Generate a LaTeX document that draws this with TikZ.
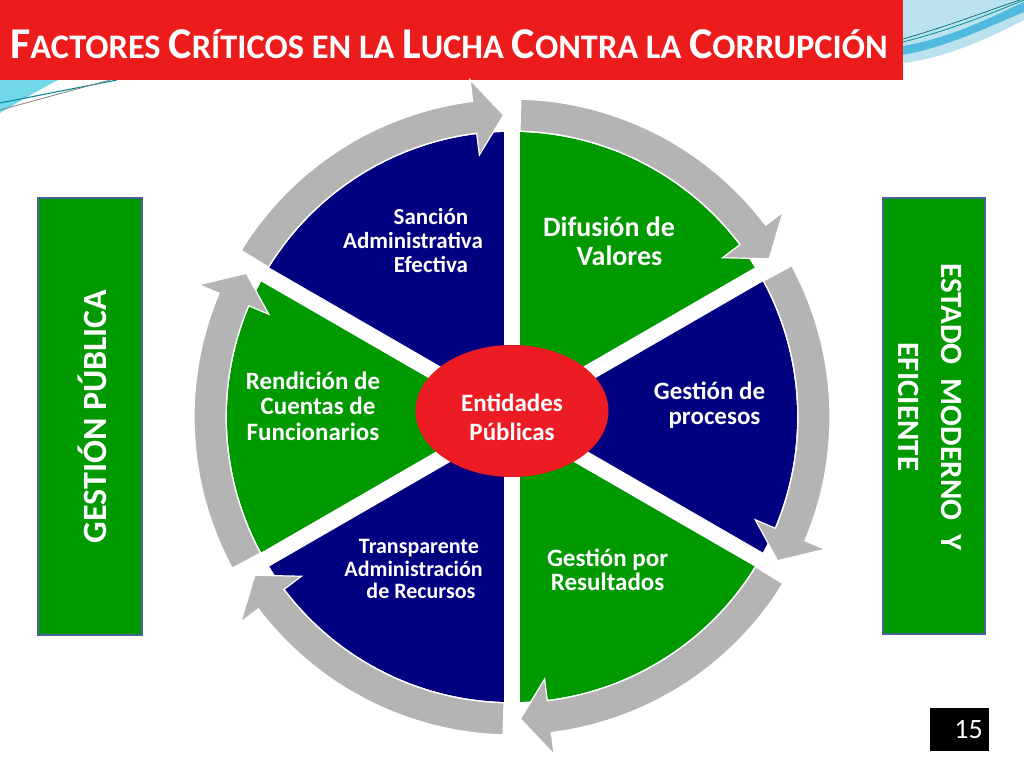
\documentclass[tikz,border=0pt]{standalone}
\usepackage{fontspec}
\setmainfont{Carlito}
\usepackage{xcolor}
\usepackage{tikz}
\usetikzlibrary{shapes.geometric}

\definecolor{titlered}{RGB}{237,28,28}
\definecolor{hubred}{RGB}{237,28,36}
\definecolor{wedgeblue}{RGB}{0,0,128}
\definecolor{wedgegreen}{RGB}{0,153,0}
\definecolor{ringgray}{RGB}{180,180,180}
\definecolor{boxedge}{RGB}{70,100,150}
\definecolor{decolight}{RGB}{185,226,238}
\definecolor{decoblue}{RGB}{80,185,222}
\definecolor{decocyan}{RGB}{112,216,232}
\definecolor{decoteal}{RGB}{0,140,150}

\newcommand\setfs[2]{\fontsize{#1}{#2}\selectfont\bfseries}
\newcommand\tcap[1]{{\fontsize{33pt}{33pt}\selectfont #1}}

\begin{document}
\begin{tikzpicture}[x=0.75pt, y=0.75pt,
  lbl/.style={text=white, align=center, inner sep=0pt},
  band/.style={fill=ringgray, draw=white, line width=0.9pt, line join=miter},
  sidebox/.style={draw=boxedge, line width=1.1pt, fill=wedgegreen},
  gap/.style={white, line width=12pt}]
\useasboundingbox (0,0) rectangle (1024,768);
\fill[white] (0,0) rectangle (1024,768);

\fill[decolight] (903,768) -- (1024,768) -- (1024,748) .. controls (985,728) and (945,710) .. (903,705) -- cycle;
\fill[decoblue] (903,713) .. controls (950,722) and (990,742) .. (1024,756) -- (1024,766) .. controls (990,750) and (950,730) .. (903,722) -- cycle;
\draw[decoteal, line width=0.6pt] (903,726) .. controls (950,738) and (990,754) .. (1024,768);
\draw[decoteal!70!black, line width=0.5pt] (903,729) .. controls (955,744) and (995,760) .. (1020,768);
\fill[decocyan] (0,688) -- (58,688) .. controls (35,676) and (15,664) .. (0,655) -- cycle;
\draw[decoteal, line width=0.8pt] (0,665) -- (117,688);
\draw[gray, line width=0.6pt] (0,658) -- (110,688);

\fill[titlered] (0,688) rectangle (903,768);
\node[anchor=base west, text=white, inner sep=0pt, font=\setfs{25.8pt}{30pt}] (title) at (10,709)
  {\tcap{F}ACTORES \tcap{C}RÍTICOS EN LA \tcap{L}UCHA \tcap{C}ONTRA LA \tcap{C}ORRUPCIÓN};

\begin{scope}[shift={(512,351)}]
\foreach \a/\c in {90/wedgeblue, 150/wedgegreen, 210/wedgeblue, 270/wedgegreen, 330/wedgeblue, 30/wedgegreen}
  \fill[\c] (0,0) -- (\a:285) arc[start angle=\a, end angle=\a+60, radius=285] -- cycle;
\foreach \a in {30,90,...,330}
  \draw[gap] (0,0) -- (\a:286);
\foreach \s/\t in {148.4/91.6, 88.4/31.6, 28.4/-28.4, -31.6/-88.4, -91.6/-148.4, -151.6/-208.4}{
  \pgfmathsetmacro\headang{\t+5.5}
  \draw[band] (\s:286) arc[start angle=\s, end angle=\headang, radius=286]
    -- (\headang:264) -- (\t:302) -- (\headang:340) -- (\headang:318)
    arc[start angle=\headang, end angle=\s, radius=318] -- cycle;
}
\end{scope}

\node[ellipse, fill=hubred, minimum width=144.75pt, minimum height=99pt] (hub) at (512,357) {};
\node[lbl, font=\setfs{18.75pt}{21.3pt}] (hubtext) at (512,350.5) {Entidades\\Públicas};

\node[lbl, font=\setfs{17.25pt}{18pt}] (sancion) at (413,527.5) {\hspace*{27pt}Sanción\\Administrativa\\\hspace*{27pt}Efectiva};
\node[lbl, font=\setfs{21pt}{21.5pt}] (difusion) at (609,527) {Difusión de\\\hspace*{15.75pt}Valores};
\node[lbl, font=\setfs{18.75pt}{18.75pt}] (procesos) at (709.5,363) {Gestión de\\\hspace*{7.5pt}procesos};
\node[lbl, font=\setfs{18.75pt}{19pt}] (rendicion) at (313,362) {Rendición de\\\hspace*{7.5pt}Cuentas de\\Funcionarios};
\node[lbl, font=\setfs{18.75pt}{18pt}] (resultados) at (607.6,198.6) {Gestión por\\Resultados};
\node[lbl, font=\setfs{16.5pt}{16.9pt}] (recursos) at (413.6,198.6) {\hspace*{8pt}Transparente\\Administración\\\hspace*{11pt}de Recursos};

\node[sidebox, minimum width=78pt, minimum height=327.75pt] (leftbox) at (90,351.5) {};
\node[lbl, rotate=90, font=\setfs{25.5pt}{30pt}] (lefttext) at (92,351.5) {GESTIÓN PÚBLICA};
\node[sidebox, minimum width=76.5pt, minimum height=327pt] (rightbox) at (934,352) {};
\node[lbl, rotate=-90, font=\setfs{23.25pt}{32pt}] (righttext) at (930,361) {ESTADO~ MODERNO~ Y\\EFICIENTE};

\node[fill=black, text=white, minimum width=44.25pt, minimum height=32.25pt, font=\fontsize{21pt}{21pt}\selectfont] (pagenum) at (959.5,38.5) {\hspace*{13.5pt}15};
\end{tikzpicture}
\end{document}
